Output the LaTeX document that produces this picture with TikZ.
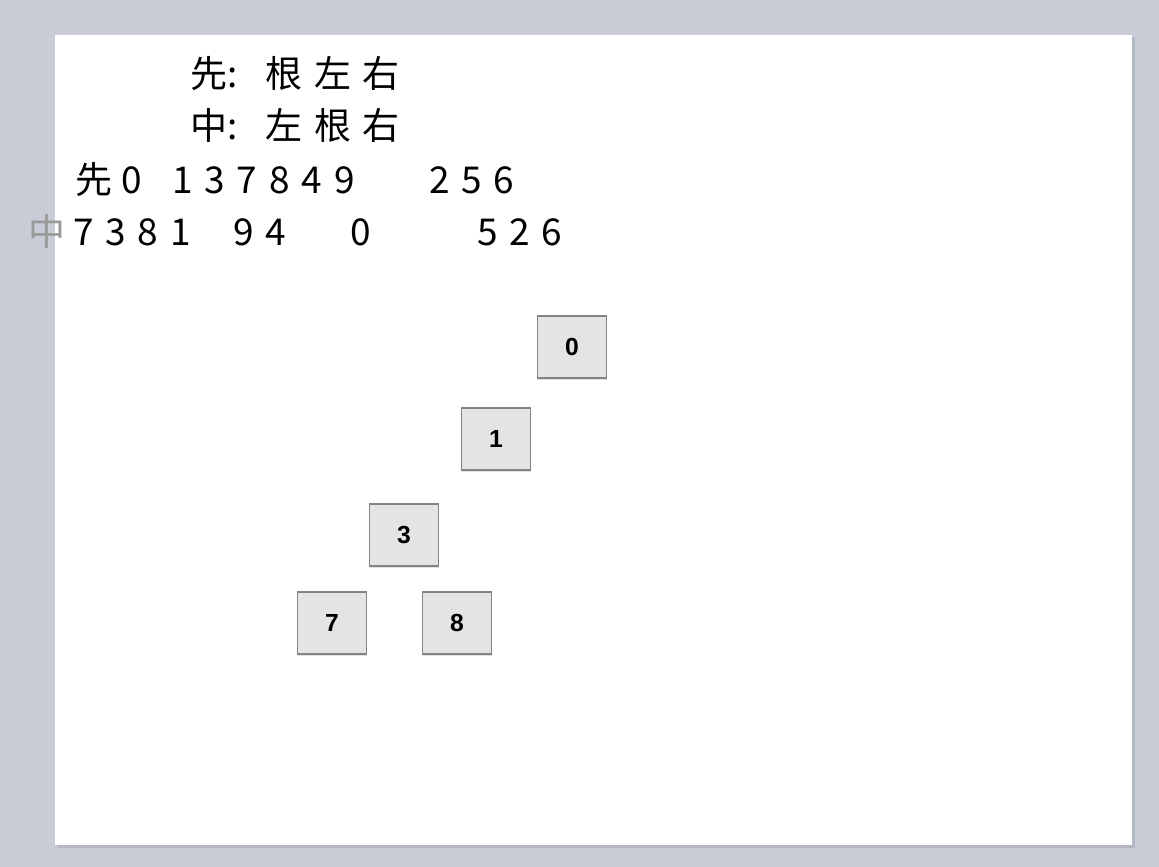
\documentclass[tikz,border=0pt]{standalone}
\usepackage{fontspec}
\setmainfont{Liberation Sans}
\newfontfamily\cjk[LetterSpace=32]{Noto Sans CJK SC}
\newfontfamily\cjktight{Noto Sans CJK SC}
\newfontfamily\boxfont[Scale=1.3]{Liberation Sans Bold}
\usetikzlibrary{shadows}
\definecolor{deskgray}{HTML}{C8CCD6}
\definecolor{pageshade}{HTML}{B4B8C2}
\definecolor{boxfill}{HTML}{E4E4E4}
\definecolor{boxline}{HTML}{848484}
\definecolor{fadedtext}{HTML}{9A9A9A}

\begin{document}
\begin{tikzpicture}[x=1pt, y=-1pt,
  txt/.style={anchor=base west, inner sep=0pt, font=\cjk\fontsize{37}{44}\selectfont},
  head/.style={txt, font=\cjktight\fontsize{37}{44}\selectfont},
  box/.style={draw=boxline, fill=boxfill, line width=1.3pt, minimum width=69pt, minimum height=62pt, inner sep=0pt, font=\boxfont\fontsize{19}{22}\selectfont, drop shadow={shadow xshift=0pt, shadow yshift=-1.8pt, fill=black!25}}
]

% Desk and page
\fill[deskgray] (0,0) rectangle (1159,867);
\fill[pageshade] (57,37) rectangle (1135,848);
\fill[white] (55,35) rectangle (1132,845);

% Traversal rules
\node[head] (prehead) at (190,87) {先:};
\node[txt] (prerule) at (265,87) {根左右};
\node[head] (inhead) at (190,139) {中:};
\node[txt] (inrule) at (265,139) {左根右};

% Preorder sequence
\node[txt] (prelabel) at (75,193) {先};
\node[txt] (preroot) at (121,193) {0};
\node[txt] (preleft) at (172,193) {137849};
\node[txt] (preright) at (429,193) {256};

% Inorder sequence
\node[txt, text=fadedtext] (inlabel) at (28,245) {中};
\node[txt] (inleftA) at (73,245) {7381};
\node[txt] (inleftB) at (233,245) {94};
\node[txt] (inroot) at (350,245) {0};
\node[txt] (inright) at (477,245) {526};

% Tree boxes
\node[box] (n0) at (572,347) {0};
\node[box] (n1) at (496,439) {1};
\node[box] (n3) at (404,535) {3};
\node[box] (n7) at (332,623) {7};
\node[box] (n8) at (457,623) {8};

\end{tikzpicture}
\end{document}
